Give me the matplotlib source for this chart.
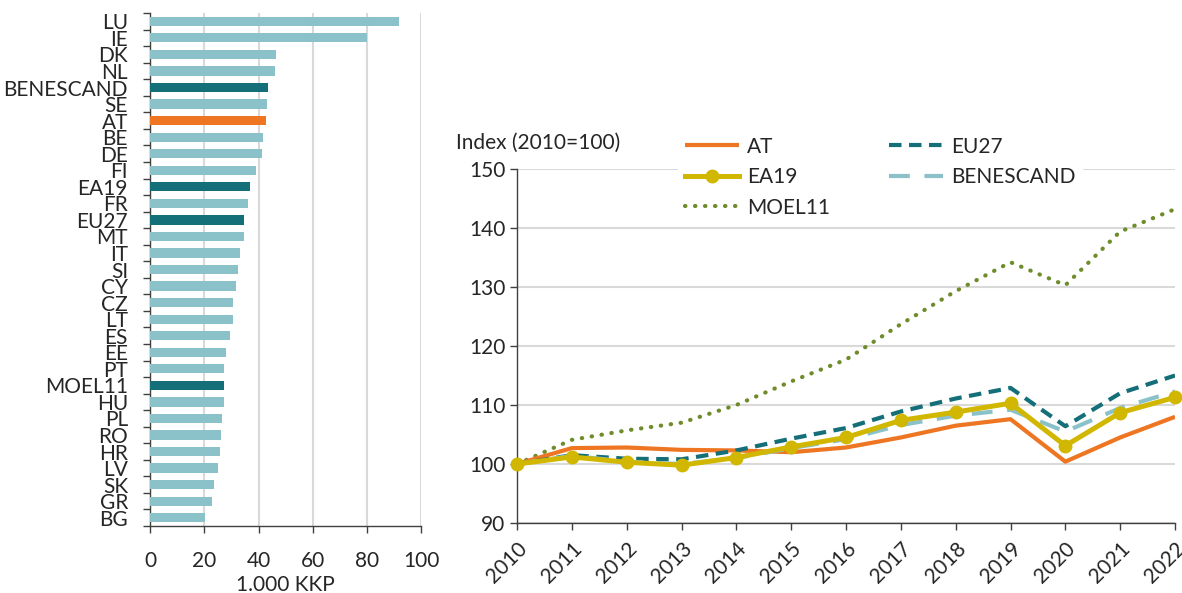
import matplotlib
matplotlib.use("Agg")
import matplotlib.pyplot as plt
from matplotlib.ticker import FixedLocator
import numpy as np

plt.rcParams['font.family'] = ['Lato', 'DejaVu Sans']

# ---- Data: left bar chart (1.000 KKP) ----
countries = ["LU", "IE", "DK", "NL", "BENESCAND", "SE", "AT", "BE", "DE", "FI",
             "EA19", "FR", "EU27", "MT", "IT", "SI", "CY", "CZ", "LT", "ES",
             "EE", "PT", "MOEL11", "HU", "PL", "RO", "HR", "LV", "SK", "GR", "BG"]
kkp_values = [91.8, 80.0, 46.3, 46.1, 43.3, 43.0, 42.6, 41.5, 41.1, 38.9,
              36.7, 36.1, 34.8, 34.8, 33.2, 32.4, 31.5, 30.7, 30.5, 29.6,
              28.1, 27.1, 27.1, 27.1, 26.5, 26.2, 25.6, 25.0, 23.5, 23.0, 20.3]
bar_xticks = [0, 20, 40, 60, 80, 100]

# ---- Data: right line chart (Index 2010=100) ----
years = [2010, 2011, 2012, 2013, 2014, 2015, 2016, 2017, 2018, 2019, 2020, 2021, 2022]
at_idx = [100, 102.7, 102.8, 102.4, 102.3, 102.0, 102.8, 104.5, 106.5, 107.6, 100.4, 104.5, 108.0]
ea19_idx = [100, 101.2, 100.3, 99.8, 101.1, 102.9, 104.5, 107.4, 108.8, 110.3, 103.1, 108.7, 111.3]
moel11_idx = [100, 104.1, 105.7, 107.0, 110.0, 114.0, 117.7, 123.7, 129.3, 134.2, 130.3, 139.4, 143.2]
eu27_idx = [100, 101.5, 100.9, 100.8, 102.3, 104.3, 106.1, 108.9, 111.1, 112.9, 106.4, 112.0, 115.0]
benescand_idx = [100, 101.4, 100.4, 100.0, 101.0, 102.7, 104.2, 106.6, 108.2, 109.2, 105.5, 109.5, 112.3]
line_yticks = [90, 100, 110, 120, 130, 140, 150]

# ---- Styles ----
LIGHT = "#8BC2CA"
DARK = "#156F79"
ORANGE = "#EE7623"
YELLOW = "#D1B700"
OLIVE = "#6F8C2A"
GRID = "#D9D9D9"
TXT = "#262626"
FS = 15

fig = plt.figure(figsize=(11.82, 5.93), dpi=100)

# ---------------- Left bar chart ----------------
ax1 = fig.add_axes([0.1270, 0.113, 0.2294, 0.865])
ypos = np.arange(len(countries))
colors = []
for c in countries:
    if c == "AT":
        colors.append(ORANGE)
    elif c in ("BENESCAND", "EA19", "EU27", "MOEL11"):
        colors.append(DARK)
    else:
        colors.append(LIGHT)
ax1.barh(ypos, kkp_values, height=0.56, color=colors, zorder=3)
ax1.set_ylim(len(countries) - 0.5, -0.5)
ax1.set_xlim(0, 100)
ax1.set_yticks(ypos)
ax1.set_yticklabels(countries, fontsize=FS, color=TXT)
ax1.yaxis.set_minor_locator(FixedLocator(np.arange(-0.5, len(countries), 1.0)))
ax1.tick_params(axis='y', which='major', length=0, pad=16)
ax1.tick_params(axis='y', which='minor', length=5, width=1, color="#404040")
ax1.set_xticks(bar_xticks)
ax1.set_xticklabels([str(v) for v in bar_xticks], fontsize=FS, color=TXT)
ax1.tick_params(axis='x', length=5, width=1, color="#404040", pad=13)
ax1.xaxis.grid(True, color=GRID, linewidth=1.5, zorder=0)
ax1.set_axisbelow(True)
for s in ("top", "right"):
    ax1.spines[s].set_visible(False)
for s in ("left", "bottom"):
    ax1.spines[s].set_color("#404040")
    ax1.spines[s].set_linewidth(1)
ax1.set_xlabel("1.000 KKP", fontsize=FS, color=TXT, labelpad=3)

# ---------------- Right line chart ----------------
ax2 = fig.add_axes([0.4374, 0.118, 0.5567, 0.597])
x = np.arange(len(years))
l_at, = ax2.plot(x, at_idx, color=ORANGE, lw=3, label="AT", zorder=4, solid_capstyle='butt')
l_moel, = ax2.plot(x, moel11_idx, color=OLIVE, lw=3, linestyle=(0, (0.1, 2.3)),
                   dash_capstyle='round', label="MOEL11", zorder=3)
l_eu, = ax2.plot(x, eu27_idx, color=DARK, lw=3, linestyle=(0, (3, 1.8)), label="EU27", zorder=5)
l_bs, = ax2.plot(x, benescand_idx, color=LIGHT, lw=3, linestyle=(0, (5, 3.5)),
                 label="BENESCAND", zorder=6)
l_ea, = ax2.plot(x, ea19_idx, color=YELLOW, lw=3.6, marker='o', markersize=9,
                 label="EA19", zorder=7, clip_on=False)
ax2.set_xlim(0, len(years) - 1)
ax2.set_ylim(90, 150)
ax2.set_yticks(line_yticks)
ax2.set_yticklabels([str(v) for v in line_yticks], fontsize=FS, color=TXT)
ax2.set_xticks(x)
ax2.set_xticklabels([str(y) for y in years], fontsize=FS, color=TXT,
                    rotation=45, ha='right', va='top', rotation_mode='anchor')
ax2.tick_params(axis='both', length=5, width=1, color="#404040")
ax2.tick_params(axis='x', pad=6)
ax2.yaxis.grid(True, color=GRID, linewidth=1.5, zorder=0)
ax2.set_axisbelow(True)
for s in ("top", "right"):
    ax2.spines[s].set_visible(False)
for s in ("left", "bottom"):
    ax2.spines[s].set_color("#404040")
    ax2.spines[s].set_linewidth(1)

fig.text(456 / 1182, 1 - 143 / 593, "Index (2010=100)", fontsize=FS, color=TXT,
         ha='left', va='center')

leg = fig.legend(handles=[l_at, l_ea, l_moel, l_eu, l_bs], ncol=2,
                 loc='upper left', bbox_to_anchor=(668 / 1182, 1 - 120 / 593),
                 fontsize=FS, frameon=True, facecolor='white', edgecolor='white',
                 framealpha=1, handlelength=2.6, handletextpad=0.4,
                 columnspacing=2.8, labelspacing=0.5, borderpad=0.3, fancybox=False)
for t in leg.get_texts():
    t.set_color(TXT)
leg.set_zorder(10)

fig.savefig("out.png", dpi=100)
